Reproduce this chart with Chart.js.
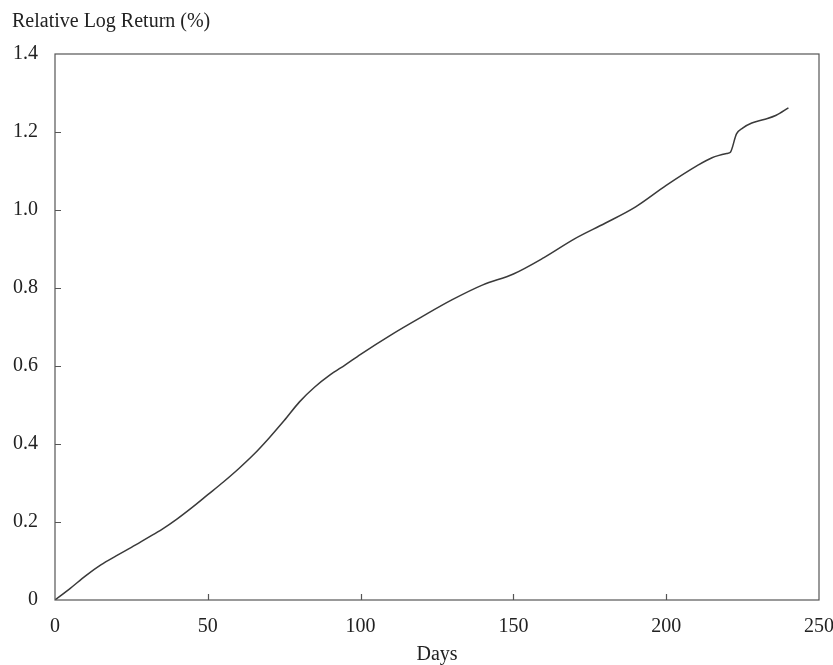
<!DOCTYPE html>
<html>
<head>
<meta charset="utf-8">
<script src="https://cdn.jsdelivr.net/npm/chart.js@4.4.1/dist/chart.umd.min.js"></script>
<style>
  html, body { margin: 0; padding: 0; background: #fff; }
  #wrap { width: 833px; height: 665px; }
</style>
</head>
<body>
<div id="wrap"><canvas id="c" width="833" height="665"></canvas></div>
<script>
const days = [0, 5, 10, 15, 20, 25, 30, 35, 40, 45, 50, 55, 60, 65, 70, 75, 80, 85, 90, 95,
  100, 110, 120, 130, 140, 150, 160, 170, 180, 190, 200, 210, 215, 220, 221, 223, 225, 228,
  232, 236, 240];
const relLogReturn = [0, 0.03, 0.062, 0.09, 0.113, 0.135, 0.158, 0.181, 0.208, 0.238, 0.27, 0.302,
  0.336, 0.373, 0.415, 0.46, 0.508, 0.546, 0.577, 0.603, 0.63, 0.68, 0.726, 0.77, 0.808, 0.836,
  0.878, 0.926, 0.966, 1.008, 1.063, 1.113, 1.134, 1.145, 1.148, 1.195, 1.21, 1.223, 1.232,
  1.243, 1.262];
const xTicks = [0, 50, 100, 150, 200, 250];
const yTicks = [0, 0.2, 0.4, 0.6, 0.8, 1.0, 1.2, 1.4];
const yTickLabels = ['0', '0.2', '0.4', '0.6', '0.8', '1.0', '1.2', '1.4'];

const FONT = '"Liberation Serif", "DejaVu Serif", serif';
const INK = '#222';
const FRAME = '#555';

// frame box, inward tick marks and the y axis caption
const frame = {
  id: 'frame',
  afterDraw(chart) {
    const { ctx, chartArea: a, scales } = chart;
    ctx.save();
    ctx.strokeStyle = FRAME;
    ctx.lineWidth = 1.2;
    ctx.strokeRect(a.left, a.top, a.right - a.left, a.bottom - a.top);
    ctx.beginPath();
    yTicks.slice(1, -1).forEach(v => {
      const y = Math.round(scales.y.getPixelForValue(v)) + 0.5;
      ctx.moveTo(a.left, y);
      ctx.lineTo(a.left + 6, y);
    });
    xTicks.slice(1, -1).forEach(v => {
      const x = Math.round(scales.x.getPixelForValue(v)) + 0.5;
      ctx.moveTo(x, a.bottom);
      ctx.lineTo(x, a.bottom - 6);
    });
    ctx.stroke();
    ctx.fillStyle = INK;
    ctx.font = '20px ' + FONT;
    ctx.textBaseline = 'middle';
    ctx.textAlign = 'left';
    ctx.fillText('Relative Log Return (%)', 12, 22);
    ctx.restore();
  }
};

new Chart(document.getElementById('c'), {
  type: 'line',
  data: {
    datasets: [{
      data: days.map((d, i) => ({ x: d, y: relLogReturn[i] })),
      borderColor: '#3a3a3a',
      borderWidth: 1.5,
      pointRadius: 0,
      cubicInterpolationMode: 'monotone',
      fill: false
    }]
  },
  options: {
    responsive: false,
    animation: false,
    layout: { padding: { top: 54, right: 0, left: 0, bottom: 0 } },
    plugins: { legend: { display: false }, tooltip: { enabled: false }, title: { display: false } },
    scales: {
      x: {
        type: 'linear',
        min: 0,
        max: 250,
        afterBuildTicks: s => { s.ticks = xTicks.map(v => ({ value: v })); },
        afterFit: s => { s.height = 65; s.paddingLeft = 0; s.paddingRight = 14; },
        grid: { display: false, drawTicks: false },
        border: { display: false },
        ticks: { padding: 15, color: INK, font: { family: FONT, size: 20 }, maxRotation: 0 },
        title: { display: true, text: 'Days', color: INK, font: { family: FONT, size: 20, lineHeight: 1 }, padding: 0 }
      },
      y: {
        min: 0,
        max: 1.4,
        afterBuildTicks: s => { s.ticks = yTicks.map(v => ({ value: v })); },
        afterFit: s => { s.width = 55; },
        grid: { display: false, drawTicks: false },
        border: { display: false },
        ticks: {
          padding: 17,
          color: INK,
          font: { family: FONT, size: 20 },
          callback: v => yTickLabels[yTicks.findIndex(t => Math.abs(t - v) < 1e-9)]
        }
      }
    }
  },
  plugins: [frame]
});
</script>
</body>
</html>
